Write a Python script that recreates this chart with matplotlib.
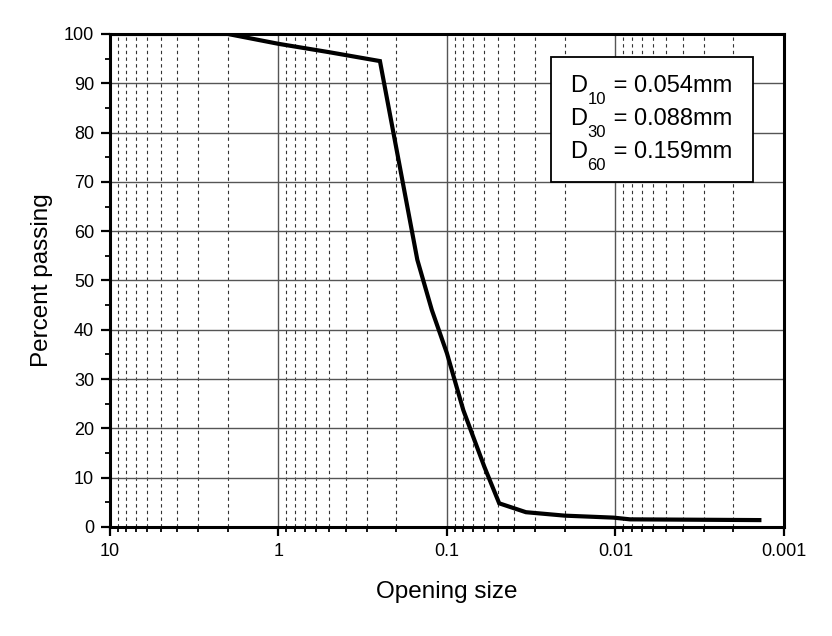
import matplotlib
matplotlib.use('Agg')
import matplotlib.pyplot as plt
import matplotlib.patches as patches
from matplotlib.ticker import LogLocator, FixedLocator, FixedFormatter, MultipleLocator

plt.rcParams['font.family'] = ['Liberation Sans', 'DejaVu Sans']

# grain size distribution
opening_mm = [10, 2.0, 1.0, 0.5, 0.25, 0.15, 0.123, 0.1, 0.08, 0.06,
              0.049, 0.034, 0.020, 0.0103, 0.0082, 0.0014]
passing = [100, 100, 98, 96.3, 94.5, 54.2, 44, 35.2, 23.7, 12.2,
           4.8, 3.0, 2.3, 1.9, 1.55, 1.4]

x_ticks = [10, 1, 0.1, 0.01, 0.001]
x_tick_labels = ['10', '1', '0.1', '0.01', '0.001']
d_names = ['10', '30', '60']
d_values = ['0.054', '0.088', '0.159']

fig = plt.figure(figsize=(8.32, 6.36), dpi=100)
ax = fig.add_axes([0.1322, 0.1714, 0.8101, 0.7752])

ax.plot(opening_mm, passing, color='black', lw=3, solid_joinstyle='miter', zorder=3)

ax.set_xscale('log')
ax.set_xlim(10, 0.001)
ax.set_ylim(0, 100)

ax.xaxis.set_major_locator(FixedLocator(x_ticks))
ax.xaxis.set_major_formatter(FixedFormatter(x_tick_labels))
ax.xaxis.set_minor_locator(LogLocator(base=10, subs=range(2, 10), numticks=20))
ax.xaxis.set_minor_formatter(FixedFormatter([]))
ax.yaxis.set_major_locator(MultipleLocator(10))
ax.yaxis.set_minor_locator(MultipleLocator(5))

ax.grid(True, which='major', axis='both', color='#555555', lw=1.0, ls='-')
ax.grid(True, which='minor', axis='x', color='#333333', lw=0.8, ls=(0, (3, 3)))

for s in ax.spines.values():
    s.set_linewidth(2.2)

ax.tick_params(which='major', direction='out', length=6.5, width=1.6, labelsize=13, pad=5)
ax.tick_params(which='minor', direction='out', length=3.5, width=1.3)

ax.set_xlabel('Opening size', fontsize=17.5, labelpad=15)
ax.set_ylabel('Percent passing', fontsize=17.5, labelpad=8)

# box with the characteristic diameters (Origin style low subscripts)
box = patches.Rectangle((0.654, 0.700), 0.300, 0.253, transform=ax.transAxes,
                        facecolor='white', edgecolor='black', lw=1.3, zorder=5)
ax.add_patch(box)
for i, (name, val) in enumerate(zip(d_names, d_values)):
    t1 = ax.text(0.682, 0.882 - i * 0.067, 'D', transform=ax.transAxes,
                 ha='left', va='baseline', fontsize=17, zorder=6)
    t2 = ax.annotate(name, xy=(1, 0), xycoords=t1, xytext=(0.5, 4),
                     textcoords='offset points', ha='left', va='top',
                     fontsize=12, zorder=6)
    ax.annotate(' = ' + val + 'mm', xy=(1, 0), xycoords=(t2, t1),
                xytext=(0.5, 0), textcoords='offset points',
                ha='left', va='bottom', fontsize=17, zorder=6)

fig.savefig('out.png', dpi=100)
